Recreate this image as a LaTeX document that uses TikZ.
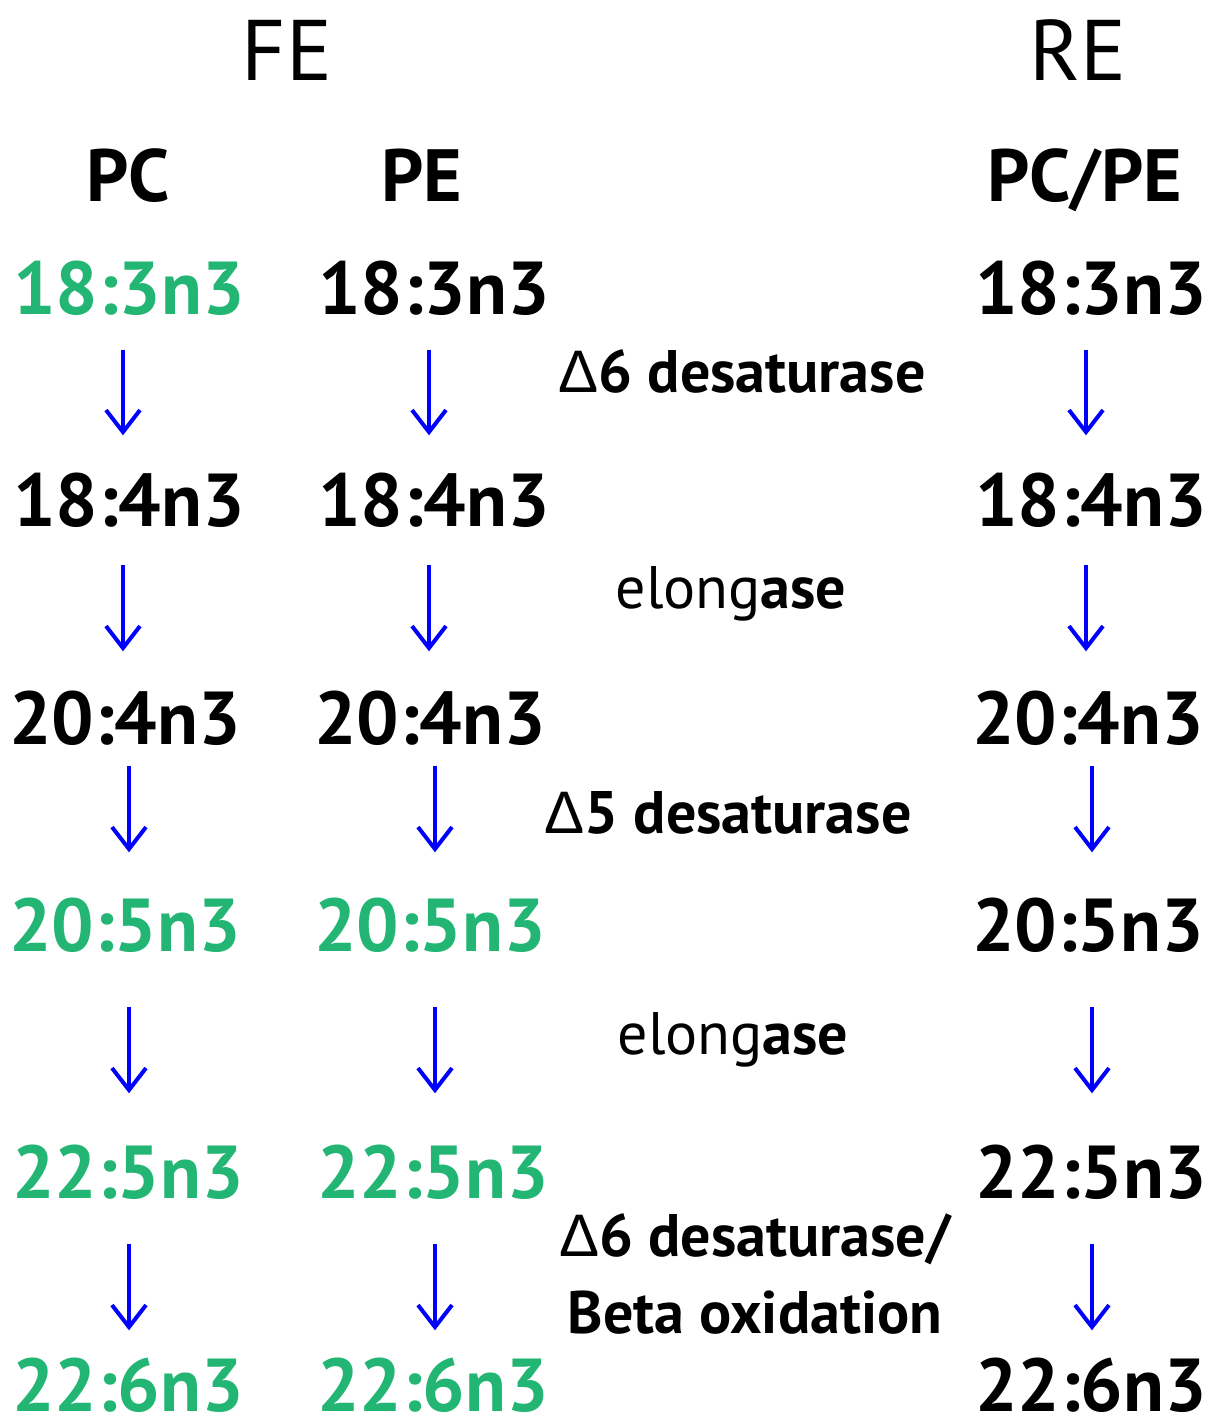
\documentclass[tikz,border=0pt]{standalone}
\usepackage{fontspec}
\setmainfont{PT Sans}
\newfontfamily\dfont{Liberation Sans}
\usetikzlibrary{arrows.meta}
\definecolor{gc}{RGB}{34,181,115}
\definecolor{bc}{RGB}{0,0,255}
\newcommand{\dlt}{{\dfont\mdseries Δ}}
\tikzset{fa/.style={inner sep=0pt,text height=53pt,text depth=0pt,font=\fontsize{75}{80}\selectfont\bfseries},
 g/.style={fa,text=gc},
 hd/.style={inner sep=0pt,text height=60pt,text depth=0pt,font=\fontsize{86}{90}\selectfont},
 sub/.style={inner sep=0pt,text height=52pt,text depth=0pt,font=\fontsize{74}{80}\selectfont\bfseries},
 enz/.style={inner sep=0pt,text height=42pt,text depth=0pt,font=\fontsize{60}{66}\selectfont\bfseries},
 arr/.style={draw=bc,line width=4pt,-{Straight Barb[length=22pt,width=34pt]}}}
\begin{document}
\begin{tikzpicture}[x=1pt,y=-1pt]
\useasboundingbox (0,0) rectangle (1211,1417);
% headers
\node[hd] (fe) at (287,50) {FE};\node[hd] (re) at (1078,50) {RE};
\node[sub] (hpc) at (128,175) {PC};\node[sub] (hpe) at (422,175) {PE};
\node[sub] (hre) at (1085,175) {PC/PE};
% PC column
\node[g] (pc1) at (129,288) {18:3n3};\node[fa] (pc2) at (129,500) {18:4n3};
\node[fa] (pc3) at (125,718) {20:4n3};\node[g] (pc4) at (125,925) {20:5n3};
\node[g] (pc5) at (128,1172) {22:5n3};\node[g] (pc6) at (128,1385) {22:6n3};
% PE column
\node[fa] (pe1) at (434,288) {18:3n3};\node[fa] (pe2) at (434,500) {18:4n3};
\node[fa] (pe3) at (430,718) {20:4n3};\node[g] (pe4) at (430,925) {20:5n3};
\node[g] (pe5) at (433,1172) {22:5n3};\node[g] (pe6) at (433,1385) {22:6n3};
% RE column
\node[fa] (re1) at (1091,288) {18:3n3};\node[fa] (re2) at (1091,500) {18:4n3};
\node[fa] (re3) at (1088,718) {20:4n3};\node[fa] (re4) at (1088,925) {20:5n3};
\node[fa] (re5) at (1091,1172) {22:5n3};\node[fa] (re6) at (1091,1385) {22:6n3};
% enzymes
\node[enz] (e1) at (742,371) {\dlt6 desaturase};
\node[enz] (e2) at (731,587) {\mdseries elong\bfseries ase};
\node[enz] (e3) at (728,812) {\dlt5 desaturase};
\node[enz] (e4) at (733,1033) {\mdseries elong\bfseries ase};
\node[enz] (e5) at (755,1235) {\dlt6 desaturase/};
\node[enz] (e6) at (755,1312) {Beta oxidation};
% arrows
\foreach \a/\b/\s/\t/\d/\f/\r in {1/2/35/38/-6/-5/-5,2/3/38/40/-6/-5/-5,3/4/21/46/4/5/4,4/5/55/52/4/5/4,5/6/45/28/1/2/1}{
 \draw[arr,shorten <=\s pt,shorten >=\t pt] ([xshift=\d pt]pc\a.south) -- ([xshift=\d pt]pc\a.south |- pc\b.north);
 \draw[arr,shorten <=\s pt,shorten >=\t pt] ([xshift=\f pt]pe\a.south) -- ([xshift=\f pt]pe\a.south |- pe\b.north);
 \draw[arr,shorten <=\s pt,shorten >=\t pt] ([xshift=\r pt]re\a.south) -- ([xshift=\r pt]re\a.south |- re\b.north);
}
\end{tikzpicture}
\end{document}
